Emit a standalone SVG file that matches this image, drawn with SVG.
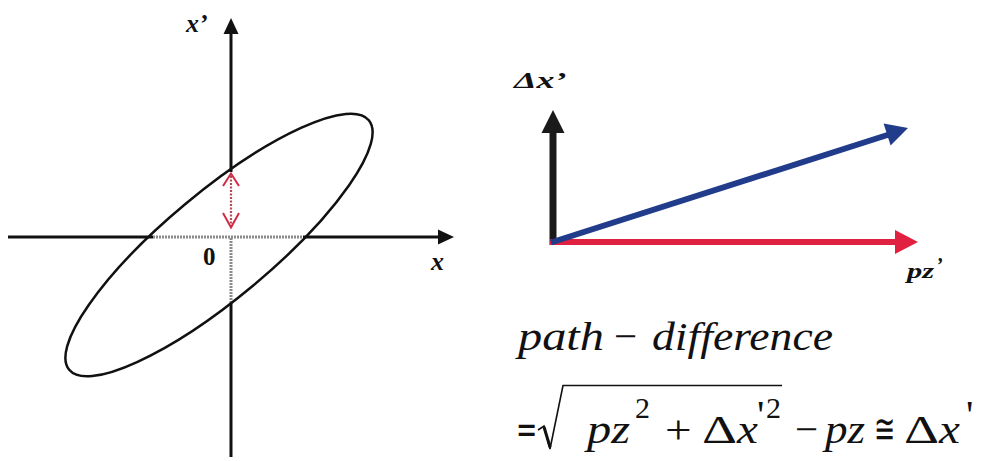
<svg xmlns="http://www.w3.org/2000/svg" width="987" height="461" viewBox="0 0 987 461">
<style>
text{font-family:"Liberation Serif","Times New Roman",serif;fill:#111}
.lbl{font-weight:bold;font-style:italic}
.mi{font-style:italic}
.f{font-size:41px}
.d{font-family:"DejaVu Serif",serif}
.sup{font-size:30px}
.ax{stroke:#111;stroke-width:3;fill:none}
.dot{stroke:#8a8a8a;stroke-width:3;stroke-dasharray:2 1;fill:none}
</style>
<rect width="987" height="461" fill="#fff"/>
<g id="left-plot">
  <g id="connectors">
    <line class="ax" x1="8" y1="237" x2="153" y2="237"/>
    <line class="ax" x1="303" y1="237" x2="440" y2="237"/>
    <polygon points="454,237 438,229.5 438,244.5" fill="#111"/>
    <line class="dot" x1="153" y1="237" x2="303" y2="237"/>
    <line class="ax" x1="231" y1="32" x2="231" y2="172"/>
    <polygon points="231,18 223.5,34 238.5,34" fill="#111"/>
    <line class="ax" x1="231" y1="303" x2="231" y2="457"/>
    <line class="dot" x1="231" y1="238" x2="231" y2="303"/>
    <line x1="231" y1="176" x2="231" y2="226" stroke="#b04a5a" stroke-width="2.2" stroke-dasharray="2 1.5"/>
    <polyline points="223,186 231,173.5 239,186" fill="none" stroke="#d22a45" stroke-width="2"/>
    <polyline points="223,213 231,227.5 239,213" fill="none" stroke="#d22a45" stroke-width="2"/>
  </g>
  <g id="ellipse">
    <ellipse cx="219" cy="245" rx="195" ry="53" transform="rotate(-39.8 219 245)" fill="none" stroke="#111" stroke-width="2.5"/>
  </g>
  <g id="labels-left">
    <text class="lbl" x="186" y="32" font-size="26">x’</text>
    <text x="203" y="265" font-weight="bold" font-size="25">0</text>
    <text class="lbl" x="431" y="270" font-size="26">x</text>
  </g>
</g>
<g id="right-plot">
  <g id="vectors">
    <line x1="553" y1="245" x2="553" y2="130" stroke="#1a1a1a" stroke-width="7"/>
    <polygon points="553,110 541.5,133 564.5,133" fill="#1a1a1a"/>
    <line x1="550" y1="242" x2="898" y2="242" stroke="#e0213f" stroke-width="6"/>
    <polygon points="918,242 895,230 895,254" fill="#e0213f"/>
    <line x1="551" y1="242.5" x2="889" y2="134.5" stroke="#213c8a" stroke-width="6"/>
    <polygon points="908,128 883.6,123.5 890.6,145.5" fill="#213c8a"/>
  </g>
  <g id="labels-right">
    <text class="lbl" font-size="24" transform="translate(514 88) scale(1.5 1)">Δx’</text>
    <text class="lbl" font-size="21" transform="translate(907 278) scale(1.45 1)">pz</text>
    <text class="lbl" x="936" y="272" font-size="20">’</text>
  </g>
</g>
<g id="formula">
  <text class="f mi" transform="translate(518 350) scale(1.18 1)">path</text>
  <text class="f" x="614" y="350">−</text>
  <text class="f mi" transform="translate(652 350) scale(1.115 1)">difference</text>
  <text class="f d" transform="translate(516 443) scale(0.62 1)">=</text>
  <path d="M538,430 L544,426 L550,449 L563,385.5 L782,385.5" fill="none" stroke="#111" stroke-width="1.6" stroke-linejoin="miter"/>
  <path d="M544,427 L550,447" stroke="#111" stroke-width="3" fill="none"/>
  <text class="f mi" transform="translate(587 443) scale(1.18 1)">pz</text>
  <text class="sup" x="635" y="418">2</text>
  <text class="f" transform="translate(665 443) scale(1.15 1)">+</text>
  <text class="f" transform="translate(702 443) scale(1.33 1)">Δ</text>
  <text class="f mi" transform="translate(737 443) scale(1.15 1)">x</text>
  <text class="f" x="757" y="428">'</text>
  <text class="sup" x="766" y="418">2</text>
  <text class="f" x="795" y="443">−</text>
  <text class="f mi" transform="translate(825 443) scale(1.1 1)">pz</text>
  <text class="f d" transform="translate(874 443) scale(0.62 1)">≅</text>
  <text class="f" transform="translate(904 443) scale(1.33 1)">Δ</text>
  <text class="f mi" transform="translate(939 443) scale(1.15 1)">x</text>
  <text class="f" x="966" y="428">'</text>
</g>
</svg>
